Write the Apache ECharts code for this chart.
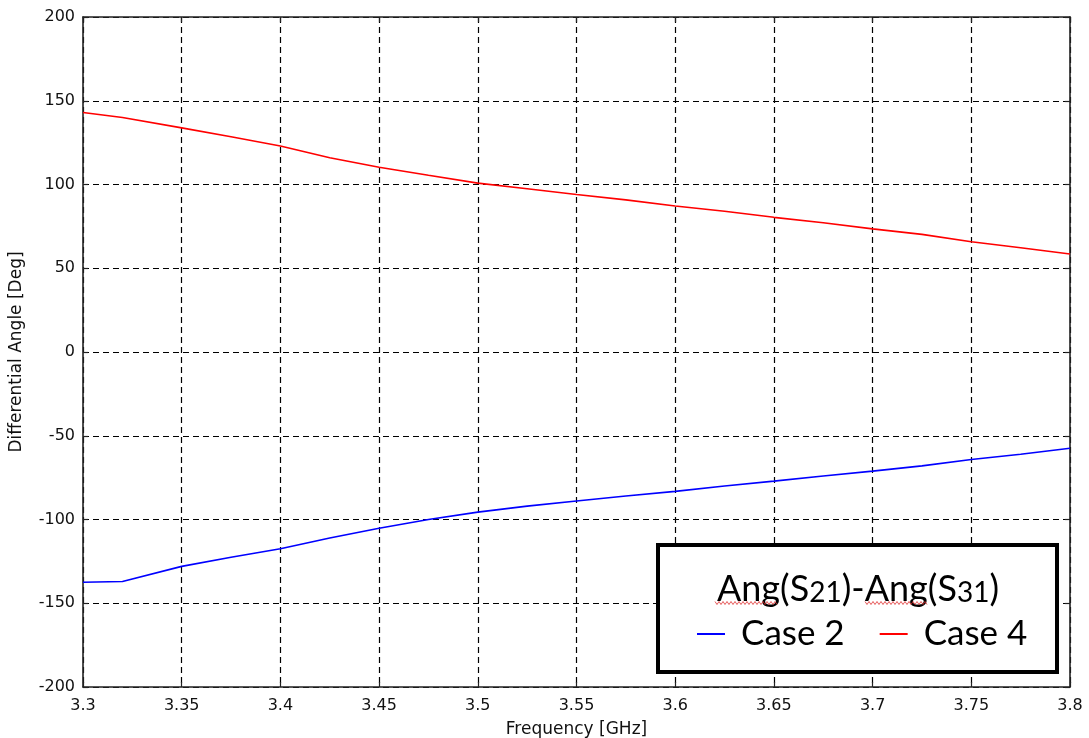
<!DOCTYPE html>
<html>
<head>
<meta charset="utf-8">
<script src="https://cdn.jsdelivr.net/npm/echarts@6/dist/echarts.min.js"></script>
<style>
  html, body { margin: 0; padding: 0; background: #fff; }
  #chart { width: 1089px; height: 738px; }
</style>
</head>
<body>
<div id="chart"></div>
<script>
// Frequency sweep points (GHz)
const freqs = [3.30, 3.32, 3.35, 3.375, 3.40, 3.425, 3.45, 3.475, 3.50, 3.525, 3.55,
               3.575, 3.60, 3.625, 3.65, 3.675, 3.70, 3.725, 3.75, 3.775, 3.80];
// Differential angle Ang(S21)-Ang(S31) in degrees
const caseTwo = [-137.5, -137, -128, -122.5, -117.5, -111, -105.2, -100, -95.6, -92, -89,
                 -86, -83.2, -80, -77.1, -74, -71.1, -68, -64.2, -61, -57.5];
const caseFour = [143, 140, 133.8, 128.5, 123, 116, 110.3, 105.5, 100.8, 97.5, 94,
                  90.8, 87.2, 84, 80.4, 77.2, 73.5, 70.2, 65.8, 62.2, 58.5];
const seriesNames = ['Case 2', 'Case 4'];
const seriesColors = ['#0000ff', '#ff0000'];
const xTicks = { min: 3.3, max: 3.8, step: 0.05 };
const yTicks = { min: -200, max: 200, step: 50 };

const chart = echarts.init(document.getElementById('chart'));
const tickFont = { fontFamily: 'DejaVu Sans', fontSize: 16, color: '#111' };
const nameFont = { fontFamily: 'DejaVu Sans', fontSize: 17, color: '#111' };
const gridDash = { color: '#000', width: 1.2, type: [6, 4] };
const frameLine = { show: true, onZero: false, lineStyle: { color: '#222', width: 1.6 } };
const innerTick = { show: true, inside: true, length: 5, lineStyle: { color: '#222', width: 1.2 } };

// Red wavy mark under a word (spell-check style underline)
function squiggle(x0, x1, y) {
  const pts = [];
  for (let x = x0, i = 0; x <= x1; x += 2, i++) pts.push([x, y + (i % 2 ? 1.5 : -1.5)]);
  return pts;
}

chart.setOption({
  backgroundColor: '#fff',
  animation: false,
  grid: { left: 83, right: 19, top: 17, bottom: 51, containLabel: false, outerBoundsMode: 'none' },
  xAxis: [{
    type: 'value', min: xTicks.min, max: xTicks.max, interval: xTicks.step,
    name: 'Frequency [GHz]', nameLocation: 'middle', nameGap: 34, nameTextStyle: nameFont,
    axisLine: frameLine, axisTick: innerTick,
    axisLabel: Object.assign({ margin: 11, formatter: v => String(+v.toFixed(2)) }, tickFont),
    splitLine: { show: true, lineStyle: gridDash }
  }, {
    type: 'value', position: 'top', min: xTicks.min, max: xTicks.max, interval: xTicks.step,
    axisLine: frameLine, axisTick: innerTick, axisLabel: { show: false }, splitLine: { show: false }
  }],
  yAxis: [{
    type: 'value', min: yTicks.min, max: yTicks.max, interval: yTicks.step,
    name: 'Differential Angle [Deg]', nameLocation: 'middle', nameGap: 58, nameTextStyle: nameFont,
    axisLine: frameLine, axisTick: innerTick,
    axisLabel: Object.assign({ margin: 8 }, tickFont),
    splitLine: { show: true, lineStyle: gridDash }
  }, {
    type: 'value', position: 'right', min: yTicks.min, max: yTicks.max, interval: yTicks.step,
    axisLine: frameLine, axisTick: innerTick, axisLabel: { show: false }, splitLine: { show: false }
  }],
  legend: {
    data: seriesNames,
    left: 697, top: 614, orient: 'horizontal', padding: 0,
    icon: 'rect', itemWidth: 28, itemHeight: 2, itemGap: 35,
    z: 20,
    textStyle: { fontFamily: 'Lato', fontSize: 35, color: '#000', lineHeight: 40, padding: [0, 0, 0, 11] }
  },
  graphic: [
    { type: 'rect', z: 10, shape: { x: 658, y: 545, width: 399, height: 127 },
      style: { fill: '#fff', stroke: '#000', lineWidth: 4 } },
    { type: 'text', z: 11, x: 858, y: 587,
      style: {
        text: '{a|Ang(S}{s|21}{a|)-Ang(S}{s|31}{a|)}',
        align: 'center', verticalAlign: 'middle',
        rich: {
          a: { fontFamily: 'Lato', fontSize: 36, fill: '#000', verticalAlign: 'bottom', lineHeight: 40 },
          s: { fontFamily: 'Lato', fontSize: 28, fill: '#000', verticalAlign: 'bottom', lineHeight: 36 }
        }
      } },
    { type: 'polyline', z: 12, shape: { points: squiggle(715, 777, 603) },
      style: { stroke: '#e03030', lineWidth: 0.8, fill: null } },
    { type: 'polyline', z: 12, shape: { points: squiggle(865, 927, 603) },
      style: { stroke: '#e03030', lineWidth: 0.8, fill: null } }
  ],
  series: [
    { name: seriesNames[0], type: 'line', showSymbol: false, color: seriesColors[0],
      lineStyle: { width: 1.6 }, data: freqs.map((f, i) => [f, caseTwo[i]]) },
    { name: seriesNames[1], type: 'line', showSymbol: false, color: seriesColors[1],
      lineStyle: { width: 1.6 }, data: freqs.map((f, i) => [f, caseFour[i]]) }
  ]
});
</script>
</body>
</html>
